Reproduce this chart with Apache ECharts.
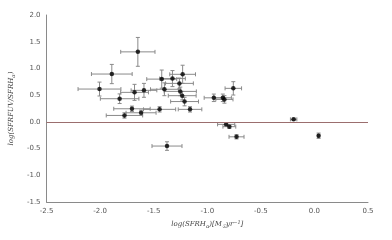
<!DOCTYPE html>
<html>
<head>
<meta charset="utf-8">
<script src="https://cdn.jsdelivr.net/npm/echarts@6/dist/echarts.min.js"></script>
<style>
  html, body { margin: 0; padding: 0; background: #fff; }
  #chart { width: 392px; height: 240px; }
</style>
</head>
<body>
<div id="chart"></div>
<script>
// log(SFR Halpha) values, x errors
const sfrHa = [-1.648, -1.891, -2.006, -1.818, -1.679, -1.591, -1.703, -1.773, -1.618, -1.445,
  -1.425, -1.40, -1.325, -1.23, -1.26, -1.252, -1.234, -1.212, -1.161, -0.939,
  -0.855, -0.84, -0.757, -0.194, -0.824, -0.794, -0.727, 0.039, -1.376]
const sfrHaErr = [0.16, 0.19, 0.20, 0.18, 0.13, 0.12, 0.17, 0.17, 0.14, 0.15,
  0.14, 0.13, 0.12, 0.12, 0.13, 0.15, 0.13, 0.13, 0.11, 0.09,
  0.08, 0.08, 0.077, 0.03, 0.08, 0.06, 0.07, 0.01, 0.14]
// log(SFR FUV / SFR Halpha) values, y errors
const ratio = [1.31, 0.895, 0.614, 0.433, 0.552, 0.59, 0.245, 0.12, 0.17, 0.234,
  0.80, 0.61, 0.81, 0.89, 0.72, 0.57, 0.49, 0.38, 0.234, 0.45,
  0.45, 0.42, 0.627, 0.047, -0.047, -0.09, -0.28, -0.26, -0.453]
const ratioErr = [0.27, 0.18, 0.13, 0.09, 0.15, 0.13, 0.05, 0.05, 0.05, 0.05,
  0.17, 0.12, 0.15, 0.17, 0.10, 0.08, 0.08, 0.08, 0.05, 0.07,
  0.07, 0.07, 0.125, 0.02, 0.03, 0.03, 0.04, 0.05, 0.08]

const xTicks = [-2.5, -2.0, -1.5, -1.0, -0.5, 0.0, 0.5]
const yTicks = [-1.5, -1.0, -0.5, 0.0, 0.5, 1.0, 1.5, 2.0]

const points = sfrHa.map((x, i) => [x, ratio[i]])
const errData = sfrHa.map((x, i) => [x, ratio[i], sfrHaErr[i], ratioErr[i]])

function renderErr(params, api) {
  const x = api.value(0), y = api.value(1)
  const ex = api.value(2), ey = api.value(3)
  const l = api.coord([x - ex, y]), r = api.coord([x + ex, y])
  const t = api.coord([x, y + ey]), b = api.coord([x, y - ey])
  const cap = 2
  const style = { stroke: '#8a8a8a', lineWidth: 1 }
  const line = (x1, y1, x2, y2) => ({ type: 'line', shape: { x1, y1, x2, y2 }, style })
  return {
    type: 'group',
    children: [
      line(l[0], l[1], r[0], r[1]),
      line(l[0], l[1] - cap, l[0], l[1] + cap),
      line(r[0], r[1] - cap, r[0], r[1] + cap),
      line(t[0], t[1], b[0], b[1]),
      line(t[0] - cap, t[1], t[0] + cap, t[1]),
      line(b[0] - cap, b[1], b[0] + cap, b[1])
    ]
  }
}

const chart = echarts.init(document.getElementById('chart'), null, { renderer: 'canvas' })
const tickFont = { color: '#555', fontSize: 7, fontFamily: 'DejaVu Sans' }
const nameRich = {
  s: { fontSize: 5, fontStyle: 'italic', fontFamily: 'DejaVu Serif', color: '#444', padding: [4, 0, 0, 0] },
  p: { fontSize: 5, fontStyle: 'italic', fontFamily: 'DejaVu Serif', color: '#444', padding: [0, 0, 4, 0] }
}

chart.setOption({
  animation: false,
  grid: { left: 39, right: 24, top: 15, bottom: 38 },
  xAxis: {
    type: 'value', min: -2.5, max: 0.5, interval: 0.5,
    axisLine: { show: true, onZero: false, lineStyle: { color: '#8a8a8a', width: 1 } },
    axisTick: { show: false },
    splitLine: { show: false },
    axisLabel: { ...tickFont, margin: 6, formatter: v => v.toFixed(1) },
    name: 'log(SFRH{s|α})[M{s|☉}yr{p|−1}]',
    nameLocation: 'middle', nameGap: 18,
    nameTextStyle: { fontSize: 7, fontStyle: 'italic', fontFamily: 'DejaVu Serif', color: '#444', rich: nameRich }
  },
  yAxis: {
    type: 'value', min: -1.5, max: 2.0, interval: 0.5,
    axisLine: { show: true, onZero: false, lineStyle: { color: '#8a8a8a', width: 1 } },
    axisTick: { show: false },
    splitLine: { show: false },
    axisLabel: { ...tickFont, margin: 6, formatter: v => v.toFixed(1) },
    name: 'log(SFRFUV/SFRH{s|α})',
    nameLocation: 'middle', nameGap: 29,
    nameTextStyle: { fontSize: 7, fontStyle: 'italic', fontFamily: 'DejaVu Serif', color: '#444', rich: nameRich }
  },
  series: [
    {
      type: 'custom',
      data: errData,
      renderItem: renderErr,
      encode: { x: 0, y: 1 },
      silent: true,
      z: 2,
      markLine: {
        silent: true, symbol: 'none', label: { show: false },
        lineStyle: { color: '#9b6e6e', width: 1, type: 'solid' },
        data: [{ yAxis: 0 }]
      }
    },
    {
      type: 'scatter',
      data: points,
      symbol: 'circle',
      symbolSize: 4.5,
      itemStyle: { color: '#000' },
      z: 3
    }
  ]
})
</script>
</body>
</html>
